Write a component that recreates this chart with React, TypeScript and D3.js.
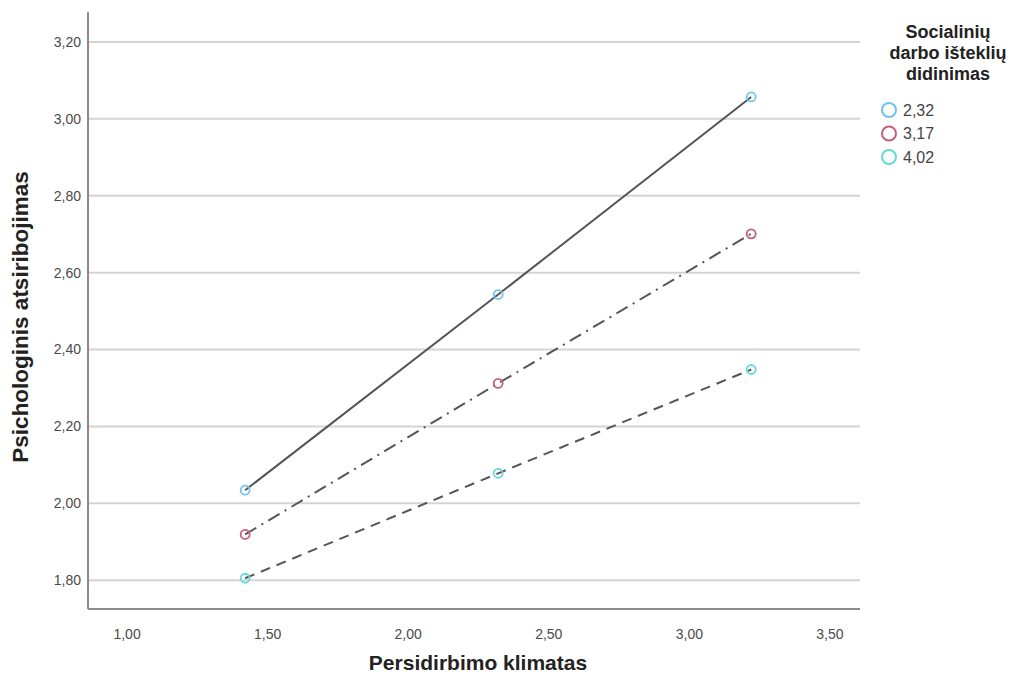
import React from "react";
import * as d3 from "d3";

// x values of the three points on each line
const xValues = [1.42, 2.32, 3.22];

// one line per moderator level
const seriesLabels = ["2,32", "3,17", "4,02"];
const seriesLow = [2.034, 2.543, 3.057];
const seriesMid = [1.919, 2.312, 2.701];
const seriesHigh = [1.805, 2.078, 2.348];

const yTicks = [1.8, 2.0, 2.2, 2.4, 2.6, 2.8, 3.0, 3.2];
const xTicks = [1.0, 1.5, 2.0, 2.5, 3.0, 3.5];

const colors = ["#6ec3f2", "#c2607f", "#62d9dc"];
const dashes = [null, "13 6 2 6", "10 7"];

const fmt = (v: number) => v.toFixed(2).replace(".", ",");

export default function App() {
  const width = 1034;
  const height = 677;
  const plot = { left: 88, right: 860, top: 12, bottom: 609 };

  const x = d3.scaleLinear().domain([0.861, 3.607]).range([plot.left, plot.right]);
  const y = d3.scaleLinear().domain([1.725, 3.278]).range([plot.bottom, plot.top]);

  const series = [seriesLow, seriesMid, seriesHigh];
  const line = d3
    .line<number>()
    .x((_, i) => x(xValues[i]))
    .y((d) => y(d));

  const font = "'Liberation Sans', Arial, sans-serif";

  return (
    <svg
      width={width}
      height={height}
      style={{ position: "absolute", left: 0, top: 0, background: "#fff", fontFamily: font }}
    >
      {/* grid */}
      {yTicks.map((t) => (
        <line key={t} x1={plot.left} x2={plot.right} y1={y(t)} y2={y(t)} stroke="#d4d4d4" strokeWidth={2} />
      ))}

      {/* axes */}
      <line x1={plot.left} x2={plot.left} y1={plot.top} y2={plot.bottom} stroke="#8a8a8a" strokeWidth={2} />
      <line x1={plot.left} x2={plot.right} y1={plot.bottom} y2={plot.bottom} stroke="#8a8a8a" strokeWidth={2} />

      {yTicks.map((t) => (
        <text key={t} x={plot.left - 7} y={y(t)} dy="0.35em" textAnchor="end" fontSize={14} fill="#4a4a4a">
          {fmt(t)}
        </text>
      ))}
      {xTicks.map((t) => (
        <text key={t} x={x(t)} y={plot.bottom + 25} dy="0.35em" textAnchor="middle" fontSize={14} fill="#4a4a4a">
          {fmt(t)}
        </text>
      ))}

      <text x={478} y={670} textAnchor="middle" fontSize={21} fontWeight="bold" fill="#222">
        Persidirbimo klimatas
      </text>
      <text
        transform={`translate(28,317) rotate(-90)`}
        textAnchor="middle"
        fontSize={22.5}
        fontWeight="bold"
        fill="#222"
      >
        Psichologinis atsiribojimas
      </text>

      {/* lines */}
      {series.map((s, i) => (
        <path
          key={i}
          d={line(s) || ""}
          fill="none"
          stroke="#555"
          strokeWidth={2}
          strokeDasharray={dashes[i] || undefined}
        />
      ))}

      {/* points */}
      {series.map((s, i) =>
        s.map((v, j) => (
          <circle key={`${i}-${j}`} cx={x(xValues[j])} cy={y(v)} r={4.5} fill="none" stroke={colors[i]} strokeWidth={1.8} />
        ))
      )}

      {/* legend */}
      <g fontSize={18} fontWeight="bold" fill="#222" textAnchor="middle">
        <text x={948} y={38}>Socialinių</text>
        <text x={948} y={59}>darbo išteklių</text>
        <text x={948} y={80}>didinimas</text>
      </g>
      {seriesLabels.map((lab, i) => (
        <g key={lab} transform={`translate(889,${110 + i * 23.5})`}>
          <circle r={7} fill="none" stroke={colors[i]} strokeWidth={2} />
          <text x={14} dy="0.35em" fontSize={16} fill="#444">
            {lab}
          </text>
        </g>
      ))}
    </svg>
  );
}
